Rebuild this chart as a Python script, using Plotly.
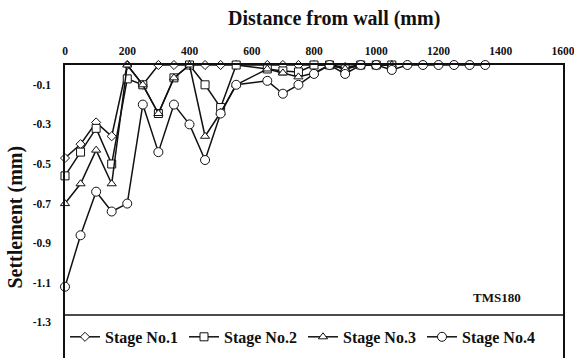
import plotly.graph_objects as go

# Distance from wall (mm)
x_all = [0, 50, 100, 150, 200, 250, 300, 350, 400, 450, 500, 550,
         650, 700, 750, 800, 850, 900, 950, 1000, 1050,
         1100, 1150, 1200, 1250, 1300, 1350]
x_short = x_all[:21]

stage1 = [-0.47, -0.40, -0.29, -0.36, 0.0, -0.10, 0.0, 0.0, 0.0, 0.0, 0.0, 0.0,
          0.0, 0.0, 0.0, 0.0, 0.0, -0.01, 0.0, 0.0, 0.0]
stage2 = [-0.56, -0.44, -0.32, -0.50, -0.07, -0.10, -0.245, -0.065, 0.0, -0.10, -0.215, 0.0,
          -0.02, -0.03, -0.035, 0.0, 0.0, -0.02, 0.0, 0.0, 0.0]
stage3 = [-0.70, -0.60, -0.43, -0.60, 0.0, -0.10, -0.245, -0.065, 0.0, -0.36, -0.24, -0.10,
          -0.02, -0.04, -0.06, -0.04, 0.0, -0.02, 0.0, 0.0, 0.0]
stage4 = [-1.12, -0.86, -0.64, -0.74, -0.70, -0.20, -0.44, -0.20, -0.30, -0.48, -0.245, -0.10,
          -0.08, -0.145, -0.10, -0.045, 0.0, -0.045, 0.0, 0.0, -0.025,
          0.0, 0.0, 0.0, 0.0, 0.0, 0.0]

names = ["Stage No.1", "Stage No.2", "Stage No.3", "Stage No.4"]
symbols = ["diamond", "square", "triangle-up", "circle"]
sizes = [7, 8, 8, 9]

y_tickvals = [-0.1, -0.3, -0.5, -0.7, -0.9, -1.1, -1.3]
y_ticktext = ["-0.1", "-0.3", "-0.5", "-0.7", "-0.9", "-1.1", "-1.3"]
x_tickvals = [0, 200, 400, 600, 800, 1000, 1200, 1400, 1600]

FONT = "Liberation Serif"
INK = "#111111"

fig = go.Figure()
series = [(x_short, stage1), (x_short, stage2), (x_short, stage3), (x_all, stage4)]
for (xs, ys), nm, sym, sz in zip(series, names, symbols, sizes):
    fig.add_trace(go.Scatter(
        x=xs, y=ys, name=nm, mode="lines+markers",
        line=dict(color=INK, width=1.5),
        marker=dict(symbol=sym, size=sz, color="white",
                    line=dict(color=INK, width=1)),
        cliponaxis=False,
    ))

fig.update_layout(
    width=574, height=358,
    margin=dict(l=65, r=11, t=65, b=0),
    paper_bgcolor="white", plot_bgcolor="white",
    font=dict(family=FONT, color=INK),
    showlegend=True,
    legend=dict(orientation="h", x=0, xanchor="left", y=0.072, yanchor="middle",
                font=dict(family=FONT, size=16, weight="bold", color=INK),
                bgcolor="rgba(0,0,0,0)", borderwidth=0,
                entrywidth=74, entrywidthmode="pixels",
                itemsizing="trace"),
    xaxis=dict(side="top", range=[0, 1600], tickvals=x_tickvals,
               showgrid=False, zeroline=False, showline=True, linecolor=INK, linewidth=1.5,
               ticks="", tickfont=dict(family=FONT, size=11.5, weight="bold", color=INK),
               ticklabelstandoff=4, ticklabeloverflow="allow"),
    yaxis=dict(range=[-1.48, 0], tickvals=y_tickvals, ticktext=y_ticktext,
               showgrid=False, zeroline=False, showline=True, mirror=True,
               linecolor=INK, linewidth=1.5,
               ticks="", tickfont=dict(family=FONT, size=11.5, weight="bold", color=INK),
               ticklabelstandoff=10, ticklabeloverflow="allow"),
    shapes=[dict(type="line", xref="paper", x0=0, x1=1, yref="y", y0=-1.263, y1=-1.263,
                 line=dict(color=INK, width=1.5))],
    annotations=[
        dict(text="Distance from wall (mm)", xref="paper", yref="paper", x=0.54, y=1.16,
             xanchor="center", yanchor="middle", showarrow=False,
             font=dict(family=FONT, size=20, weight="bold", color=INK)),
        dict(text="Settlement (mm)", xref="paper", yref="paper", x=-0.10, y=0.48,
             xanchor="center", yanchor="middle", showarrow=False, textangle=-90,
             font=dict(family=FONT, size=20, weight="bold", color=INK)),
        dict(text="TMS180", xref="paper", yref="paper", x=0.867, y=0.208,
             xanchor="center", yanchor="middle", showarrow=False,
             font=dict(family=FONT, size=13, weight="bold", color=INK)),
    ],
)

fig.write_html("out.html")
